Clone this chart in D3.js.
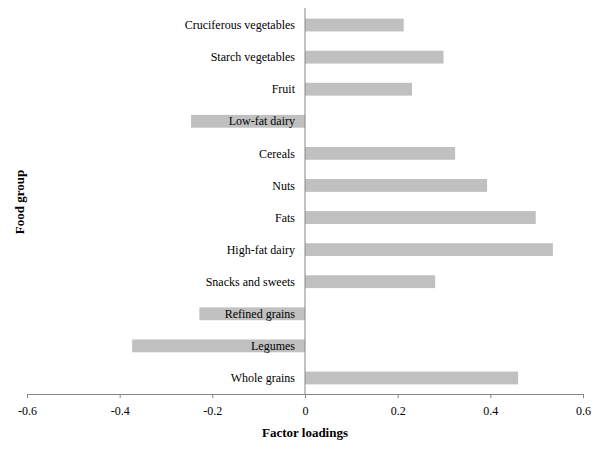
<!DOCTYPE html>
<html>
<head>
<meta charset="utf-8">
<script src="https://cdn.jsdelivr.net/npm/d3@7"></script>
<style>
body { margin: 0; background: #fff; }
text { font-family: "Liberation Serif", "Times New Roman", serif; }
</style>
</head>
<body>
<div id="chart"></div>
<script>
var foodGroups = ['Cruciferous vegetables', 'Starch vegetables', 'Fruit', 'Low-fat dairy', 'Cereals', 'Nuts',
                  'Fats', 'High-fat dairy', 'Snacks and sweets', 'Refined grains', 'Legumes', 'Whole grains']
var loadings = [0.213, 0.299, 0.231, -0.246, 0.324, 0.393, 0.498, 0.535, 0.281, -0.228, -0.373, 0.460]
var xTicks = [-0.6, -0.4, -0.2, 0, 0.2, 0.4, 0.6]

var svg = d3.select('#chart')
            .append('svg')
            .attr('width', 600)
            .attr('height', 450)

var x = d3.scaleLinear()
          .domain([-0.6, 0.6])
          .range([27, 583])

var y = d3.scaleBand()
          .domain(foodGroups)
          .range([9, 394])
          .paddingInner(0.6)
          .paddingOuter(0.3)

// bars
svg.selectAll('rect.bar')
   .data(foodGroups)
   .enter()
   .append('rect')
   .attr('class', 'bar')
   .attr('x', function(d, i){ return x(Math.min(0, loadings[i])) })
   .attr('width', function(d, i){ return Math.abs(x(loadings[i]) - x(0)) })
   .attr('y', function(d){ return y(d) })
   .attr('height', y.bandwidth())
   .attr('fill', '#c0c0c0')

// vertical zero line
svg.append('line')
   .attr('x1', x(0)).attr('x2', x(0))
   .attr('y1', 8).attr('y2', 394)
   .attr('stroke', '#868686')
   .attr('stroke-width', 1)

// x axis
var xAxis = svg.append('g')
   .attr('transform', 'translate(0,394)')
   .call(d3.axisBottom(x)
           .tickValues(xTicks)
           .tickSize(4)
           .tickPadding(8)
           .tickFormat(function(d){ return d === 0 ? '0' : d.toFixed(1) }))
xAxis.select('.domain').attr('stroke', '#868686')
xAxis.selectAll('.tick line').attr('stroke', '#868686')
xAxis.selectAll('.tick text')
     .attr('fill', '#000')
     .style('font-family', '"Liberation Serif", serif')
     .style('font-size', '12px')

// category labels
svg.selectAll('text.cat')
   .data(foodGroups)
   .enter()
   .append('text')
   .attr('class', 'cat')
   .attr('x', 295)
   .attr('y', function(d){ return y(d) + y.bandwidth() / 2 })
   .attr('dy', '0.35em')
   .attr('text-anchor', 'end')
   .style('font-size', '12px')
   .attr('fill', '#000')
   .text(function(d){ return d })

// axis titles
svg.append('text')
   .attr('x', x(0))
   .attr('y', 437)
   .attr('text-anchor', 'middle')
   .style('font-size', '13px')
   .style('font-weight', 'bold')
   .text('Factor loadings')

svg.append('text')
   .attr('transform', 'translate(24,202) rotate(-90)')
   .attr('text-anchor', 'middle')
   .style('font-size', '13px')
   .style('font-weight', 'bold')
   .text('Food group')
</script>
</body>
</html>
